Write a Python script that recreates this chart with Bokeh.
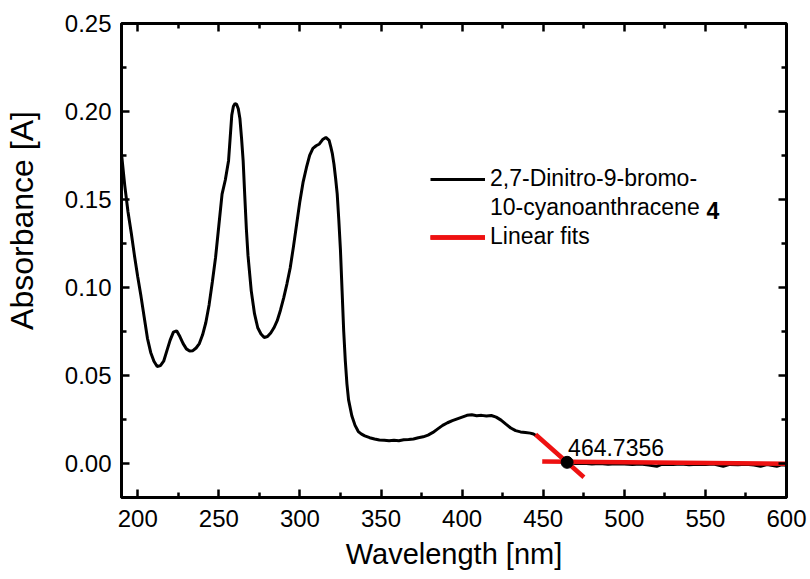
from bokeh.plotting import figure
from bokeh.models import (LinearAxis, FixedTicker, PrintfTickFormatter, Label,
                          Legend, LegendItem, Range1d)
from bokeh.embed import file_html
from bokeh.resources import INLINE

# ---------------- data ----------------
wavelength = [190, 192, 194, 196, 198, 200, 202, 204, 206, 208, 210, 212, 214, 216, 218,
              220, 222, 224, 226, 228, 230, 232, 234, 236, 238, 240, 242, 244, 246, 248,
              250, 252, 254, 256, 257, 258, 259, 260, 261, 262, 263, 264, 265, 266, 267,
              268, 270, 272, 274, 276, 278, 280, 282, 284, 286, 288, 290, 292, 294, 296,
              298, 300, 302, 304, 306, 308, 310, 312, 314, 316, 318, 319, 320, 321, 322,
              323, 324, 325, 326, 327, 328, 329, 330, 332, 334, 336, 338, 340, 343, 346,
              349, 352, 355, 358, 361, 364, 367, 370, 373, 376, 379, 382, 385, 388, 391,
              394, 397, 400, 403, 406, 409, 412, 415, 418, 421, 424, 427, 430, 433, 436,
              439, 442, 444, 446, 448, 450, 452, 454, 456, 458, 460, 462, 464, 466, 470,
              475, 480, 485, 490, 495, 500, 505, 510, 515, 520, 523, 530, 535, 540, 545,
              550, 555, 561, 565, 570, 575, 580, 584, 588, 594, 597, 600]
absorbance = [0.176, 0.158, 0.143, 0.131, 0.118, 0.106, 0.095, 0.083, 0.071, 0.063, 0.058,
              0.055, 0.0555, 0.058, 0.064, 0.070, 0.0745, 0.0753, 0.072, 0.068, 0.065,
              0.0638, 0.0640, 0.0655, 0.068, 0.073, 0.080, 0.090, 0.103, 0.117, 0.135,
              0.153, 0.161, 0.172, 0.185, 0.198, 0.203, 0.2045, 0.204, 0.2015, 0.196,
              0.185, 0.172, 0.152, 0.133, 0.118, 0.098, 0.085, 0.077, 0.0735, 0.0715,
              0.072, 0.074, 0.077, 0.081, 0.087, 0.094, 0.102, 0.111, 0.123, 0.136, 0.149,
              0.160, 0.168, 0.175, 0.179, 0.1805, 0.1815, 0.184, 0.1852, 0.1835, 0.180,
              0.176, 0.170, 0.162, 0.153, 0.138, 0.121, 0.098, 0.075, 0.058, 0.045, 0.036,
              0.027, 0.0215, 0.018, 0.0165, 0.0155, 0.0145, 0.0138, 0.0132, 0.0130, 0.0127,
              0.0130, 0.0128, 0.0133, 0.0135, 0.0138, 0.0145, 0.0150, 0.0160, 0.0175,
              0.0195, 0.0215, 0.0230, 0.0242, 0.0252, 0.0262, 0.0272, 0.0275, 0.0270,
              0.0272, 0.0268, 0.0271, 0.0262, 0.0245, 0.0222, 0.0200, 0.0185, 0.0178,
              0.0175, 0.0171, 0.0166, 0.0155, 0.0140, 0.0125, 0.0107, 0.0092, 0.0075,
              0.0058, 0.0042, 0.0025, 0.0010, 0.0003, -0.0002, 0.0000, -0.0004, -0.0002,
              -0.0006, -0.0003, -0.0005, -0.0008, -0.0004, -0.0010, -0.0018, -0.0006,
              -0.0007, -0.0004, -0.0009, -0.0006, -0.0008, -0.0005, -0.0018, -0.0007,
              -0.0009, -0.0006, -0.0010, -0.0018, -0.0008, -0.0017, -0.0009, -0.0012]

fit_steep_x = [445.3, 475.1]
fit_steep_y = [0.0163, -0.0080]
fit_flat_x = [449.4, 600.0]
fit_flat_y = [0.0009, -0.0003]
onset_x = [464.7356]
onset_y = [0.0005]

x_ticks = [200, 250, 300, 350, 400, 450, 500, 550, 600]
x_minor = [225, 275, 325, 375, 425, 475, 525, 575]
y_ticks = [0.00, 0.05, 0.10, 0.15, 0.20, 0.25]
y_minor = [0.025, 0.075, 0.125, 0.175, 0.225]

x_start, x_end = 190, 600
y_start, y_end = -0.0195, 0.25

x_title = "Wavelength [nm]"
y_title = "Absorbance [A]"
series_label_1 = "2,7-Dinitro-9-bromo-"
series_label_2 = "10-cyanoanthracene"
series_label_bold = "4"
fit_label = "Linear fits"

FONT = "Liberation Sans"

p = figure(width=810, height=579, x_range=Range1d(x_start, x_end),
           y_range=Range1d(y_start, y_end),
           output_backend="svg", toolbar_location=None, x_axis_type=None, y_axis_type=None,
           min_border_left=121, min_border_right=24, min_border_top=23, min_border_bottom=82)
p.outline_line_color = "black"
p.outline_line_width = 3
p.background_fill_color = "white"
p.border_fill_color = "white"


def style(ax, major_in=8, minor_in=5):
    ax.axis_line_width = 3
    ax.axis_line_color = "black"
    ax.major_tick_in = major_in
    ax.major_tick_out = 0
    ax.minor_tick_in = minor_in
    ax.minor_tick_out = 0
    ax.major_tick_line_width = 2.5
    ax.minor_tick_line_width = 2.5
    ax.major_tick_line_color = "black"
    ax.minor_tick_line_color = "black"
    ax.major_label_text_font = FONT
    ax.major_label_text_font_size = "24px"
    ax.major_label_text_color = "black"


# bottom axis with labels
bottom = LinearAxis(ticker=FixedTicker(ticks=x_ticks, minor_ticks=x_minor))
style(bottom)
bottom.major_label_standoff = 12
bottom.axis_label = x_title
bottom.axis_label_text_font = FONT
bottom.axis_label_text_font_size = "29px"
bottom.axis_label_text_font_style = "normal"
bottom.axis_label_text_color = "black"
bottom.axis_label_standoff = 8
p.add_layout(bottom, "below")

# left axis with labels
left = LinearAxis(ticker=FixedTicker(ticks=y_ticks, minor_ticks=y_minor),
                  formatter=PrintfTickFormatter(format="%.2f"))
style(left)
left.major_label_standoff = 10
p.add_layout(left, "left")

# outer left axis that only carries the y title (raised as in the reference)
ytitle = LinearAxis(ticker=FixedTicker(ticks=[], minor_ticks=[]))
ytitle.axis_line_color = None
ytitle.major_tick_in = 0
ytitle.major_tick_out = 0
ytitle.minor_tick_in = 0
ytitle.minor_tick_out = 0
ytitle.axis_label = "\u00a0" * 9 + y_title
ytitle.axis_label_text_font = FONT
ytitle.axis_label_text_font_size = "32px"
ytitle.axis_label_text_font_style = "normal"
ytitle.axis_label_text_color = "black"
ytitle.axis_label_standoff = 22
p.add_layout(ytitle, "left")

# mirrored tick marks (no labels) on top and right, drawn as tick-only axes
for ticks, length in ((x_ticks, 8), (x_minor, 5)):
    ax = LinearAxis(ticker=FixedTicker(ticks=[], minor_ticks=ticks), fixed_location=y_end)
    style(ax, 0, length)
    p.add_layout(ax, "above")
for ticks, length in ((y_ticks, 8), (y_minor, 5)):
    ax = LinearAxis(ticker=FixedTicker(ticks=[], minor_ticks=ticks), fixed_location=x_end)
    style(ax, 0, length)
    p.add_layout(ax, "right")

spec = p.line(wavelength, absorbance, line_color="black", line_width=3)
f1 = p.line(fit_steep_x, fit_steep_y, line_color="#ee1111", line_width=4.5)
f2 = p.line(fit_flat_x, fit_flat_y, line_color="#ee1111", line_width=4.5)
p.scatter(onset_x, onset_y, size=12, fill_color="black", line_color="black")

p.add_layout(Label(x=onset_x[0], y=0, x_offset=1, y_offset=16, text=f"{onset_x[0]:.4f}",
                   text_font=FONT, text_font_size="23px", text_color="black",
                   text_baseline="alphabetic"))

legend = Legend(items=[LegendItem(label=series_label_1, renderers=[spec]),
                       LegendItem(label=series_label_2, renderers=[]),
                       LegendItem(label=fit_label, renderers=[f1, f2])],
                location=(309, 247), border_line_alpha=0, background_fill_alpha=0,
                padding=0, margin=0, spacing=2, glyph_width=55, glyph_height=20,
                label_height=20, label_standoff=5, label_text_font=FONT,
                label_text_font_size="23px", label_text_color="black")
p.add_layout(legend)

p.add_layout(Label(x=585, y=287, x_units="screen", y_units="screen", text=series_label_bold,
                   text_font=FONT, text_font_size="23px", text_font_style="bold",
                   text_color="black", text_baseline="middle"))

open("out.html", "w").write(file_html(p, INLINE))
